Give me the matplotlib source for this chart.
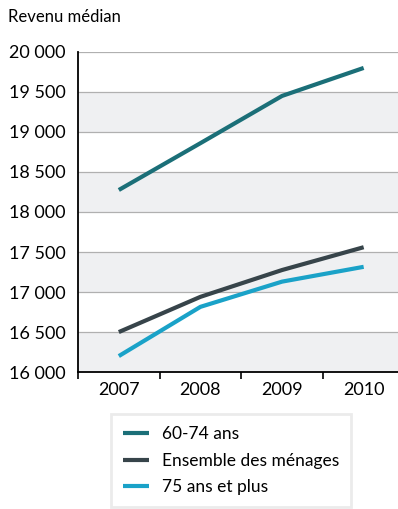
import matplotlib
matplotlib.use("Agg")
import matplotlib.pyplot as plt

years = ["2007", "2008", "2009", "2010"]
age_60_74 = [18275, 18860, 19450, 19800]
ensemble = [16500, 16940, 17275, 17560]
age_75_plus = [16200, 16815, 17130, 17315]
series_labels = ["60-74 ans", "Ensemble des ménages", "75 ans et plus"]
yticks = [16000, 16500, 17000, 17500, 18000, 18500, 19000, 19500, 20000]

plt.rcParams['font.family'] = ['Lato', 'DejaVu Sans']

fig = plt.figure(figsize=(3.98, 5.09), dpi=100)
ax = fig.add_axes([0.196, 0.269, 0.81, 0.629])

x = list(range(len(years)))
colors = ['#1b6f78', '#37444a', '#1aa2c8']
for vals, lab, c in zip([age_60_74, ensemble, age_75_plus], series_labels, colors):
    ax.plot(x, vals, color=c, lw=3, label=lab, solid_capstyle='butt', zorder=3)

# bandes grises alternées
for lo in yticks[:-1:2]:
    ax.axhspan(lo, lo + 500, color='#eff0f2', zorder=0, lw=0)
for y in yticks[1:]:
    ax.axhline(y, color='#b0b0b0', lw=0.9, zorder=1)

ax.set_ylim(16000, 20000)
ax.set_xlim(-0.5, 3.45)
ax.set_yticks(yticks)
ax.set_yticklabels([f"{v:,}".replace(",", " ") for v in yticks], fontsize=13)
ax.set_xticks([-0.5, 0.5, 1.5, 2.5])
ax.set_xticklabels([])
ax.set_xticks(x, minor=True)
ax.set_xticklabels(years, minor=True, fontsize=13)
ax.tick_params(axis='x', which='major', length=5, width=1.2, direction='out')
ax.tick_params(axis='x', which='minor', length=0, pad=7)
ax.tick_params(axis='y', length=0, pad=9)

for s in ['top', 'right']:
    ax.spines[s].set_visible(False)
ax.spines['left'].set_linewidth(1.3)
ax.spines['bottom'].set_linewidth(1.3)

fig.text(0.02, 0.967, "Revenu médian", fontsize=12, va='center', ha='left')

leg = fig.legend(loc='upper left', bbox_to_anchor=(0.278, 0.186), fontsize=12.5,
                 frameon=True, fancybox=False, shadow=False,
                 handlelength=1.5, handletextpad=0.75,
                 borderpad=0.7, borderaxespad=0, labelspacing=0.6)
leg.get_frame().set_edgecolor('#e6e6e6')
leg.get_frame().set_linewidth(2)

fig.savefig("out.png", dpi=100)
